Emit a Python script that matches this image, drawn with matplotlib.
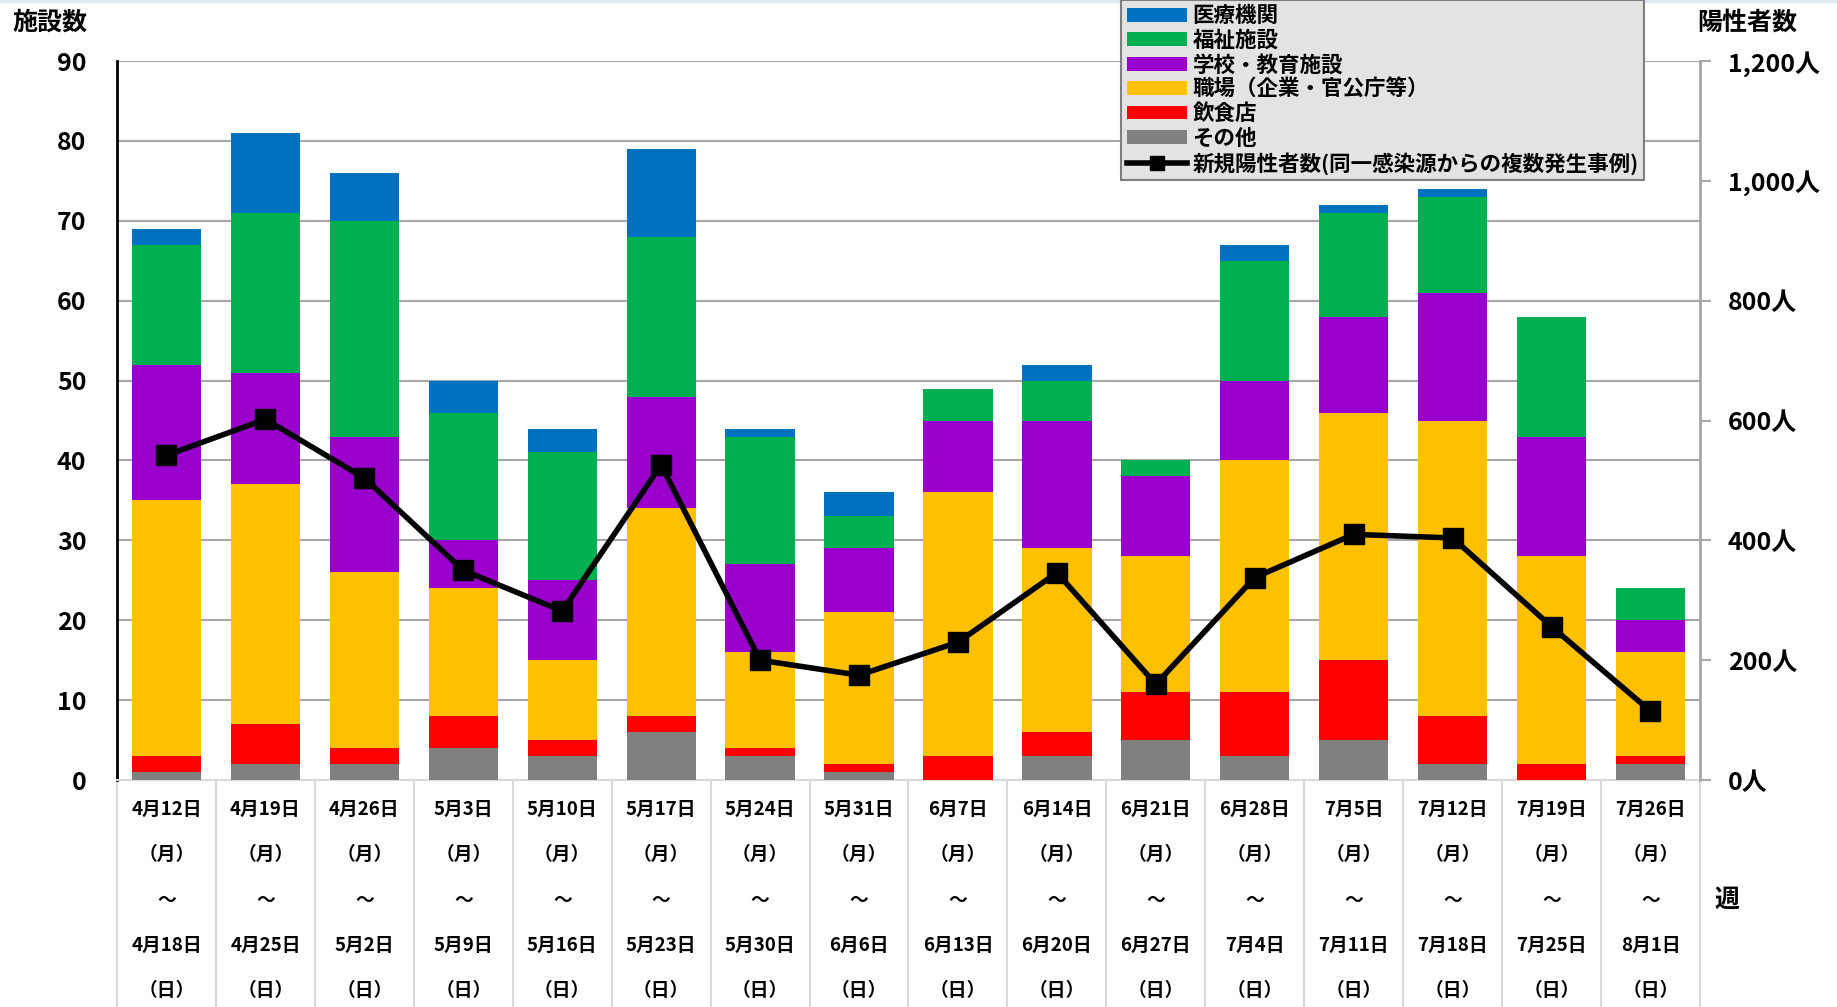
import matplotlib
matplotlib.use('Agg')
import matplotlib.pyplot as plt
from matplotlib.patches import Patch
from matplotlib.lines import Line2D
from matplotlib.ticker import FuncFormatter, MultipleLocator
import numpy as np

plt.rcParams['font.family'] = ['Noto Sans CJK JP', 'DejaVu Sans']
plt.rcParams['font.weight'] = 'bold'

week_start = ['4月12日', '4月19日', '4月26日', '5月3日', '5月10日', '5月17日', '5月24日', '5月31日',
              '6月7日', '6月14日', '6月21日', '6月28日', '7月5日', '7月12日', '7月19日', '7月26日']
week_end = ['4月18日', '4月25日', '5月2日', '5月9日', '5月16日', '5月23日', '5月30日', '6月6日',
            '6月13日', '6月20日', '6月27日', '7月4日', '7月11日', '7月18日', '7月25日', '8月1日']

# stacked from the bottom up
sonota = [1, 2, 2, 4, 3, 6, 3, 1, 0, 3, 5, 3, 5, 2, 0, 2]
inshoku = [2, 5, 2, 4, 2, 2, 1, 1, 3, 3, 6, 8, 10, 6, 2, 1]
shokuba = [32, 30, 22, 16, 10, 26, 12, 19, 33, 23, 17, 29, 31, 37, 26, 13]
gakko = [17, 14, 17, 6, 10, 14, 11, 8, 9, 16, 10, 10, 12, 16, 15, 4]
fukushi = [15, 20, 27, 16, 16, 20, 16, 4, 4, 5, 2, 15, 13, 12, 15, 4]
iryo = [2, 10, 6, 4, 3, 11, 1, 3, 0, 2, 0, 2, 1, 1, 0, 0]
positives = [542, 602, 504, 350, 282, 526, 200, 175, 230, 346, 160, 338, 410, 404, 256, 115]

series = [
    ('その他', sonota, '#808080'),
    ('飲食店', inshoku, '#FF0000'),
    ('職場（企業・官公庁等）', shokuba, '#FFC000'),
    ('学校・教育施設', gakko, '#9900CC'),
    ('福祉施設', fukushi, '#00B050'),
    ('医療機関', iryo, '#0070C0'),
]

fig = plt.figure(figsize=(18.37, 10.07), dpi=100)
ax = fig.add_axes([0.0637, 0.2254, 0.8617, 0.714])
x = np.arange(len(week_start))

bottom = np.zeros(len(x))
for name, vals, col in series:
    ax.bar(x, vals, 0.7, bottom=bottom, color=col, zorder=3)
    bottom += np.array(vals)

ax.set_xlim(-0.5, len(x) - 0.5)
ax.set_ylim(0, 90)
ax.yaxis.set_major_locator(MultipleLocator(10))
ax.grid(axis='y', color='#a6a6a6', linewidth=1.5, zorder=0)
ax.tick_params(axis='y', length=0, labelsize=18, pad=22)
ax.set_xticks([])
for s in ['top', 'right']:
    ax.spines[s].set_visible(False)
ax.spines['left'].set_color('black')
ax.spines['left'].set_linewidth(2)
ax.spines['bottom'].set_color('#d9d9d9')
ax.spines['bottom'].set_linewidth(1.5)

ax2 = ax.twinx()
ax2.plot(x, positives, color='black', linewidth=4, marker='s', markersize=15, zorder=5)
ax2.set_ylim(0, 1200)
ax2.yaxis.set_major_locator(MultipleLocator(200))
ax2.yaxis.set_major_formatter(FuncFormatter(lambda v, p: f'{int(v):,}人'))
ax2.tick_params(axis='y', labelsize=18, length=8, width=1.5, color='#a6a6a6', pad=12)
for s in ['top', 'left', 'bottom']:
    ax2.spines[s].set_visible(False)
ax2.spines['right'].set_color('#a6a6a6')
ax2.spines['right'].set_linewidth(2)

# category labels table under the axis
tr = ax.get_xaxis_transform()
rows = [-0.041, -0.104, -0.167, -0.230, -0.293]
for i in x:
    texts = [week_start[i], '（月）', '～', week_end[i], '（日）']
    for yy, t in zip(rows, texts):
        ax.text(i, yy, t, transform=tr, ha='center', va='center', fontsize=13.5, fontweight='bold')
for b in np.arange(-0.5, len(x)):
    ax.plot([b, b], [0, -0.34], transform=tr, color='#d9d9d9', linewidth=1.5, clip_on=False)

fig.text(0.027, 0.977, '施設数', fontsize=18, fontweight='bold', ha='center', va='center')
fig.text(0.951, 0.977, '陽性者数', fontsize=18, fontweight='bold', ha='center', va='center')
fig.text(0.940, 0.106, '週', fontsize=18, fontweight='bold', ha='center', va='center')
fig.add_artist(Line2D([0, 1], [0.999, 0.999], transform=fig.transFigure, color='#dce6f2', linewidth=2))

handles = [Patch(facecolor=c, label=n) for n, v, c in series[::-1]]
handles.append(Line2D([], [], color='black', linewidth=4, marker='s', markersize=10,
                      label='新規陽性者数(同一感染源からの複数発生事例)'))
leg = fig.legend(handles=handles, loc='upper left', bbox_to_anchor=(0.6105, 1.0),
                 fontsize=15.5, frameon=True, fancybox=False, borderpad=0.25,
                 labelspacing=0.16, handlelength=2.8, handleheight=0.6, handletextpad=0.25,
                 borderaxespad=0)
leg.get_frame().set_facecolor('#e3e3e3')
leg.get_frame().set_edgecolor('#7f7f7f')
leg.get_frame().set_alpha(1)
leg.get_frame().set_linewidth(1.5)
for t in leg.get_texts():
    t.set_fontweight('bold')

fig.savefig('out.png', dpi=100)
